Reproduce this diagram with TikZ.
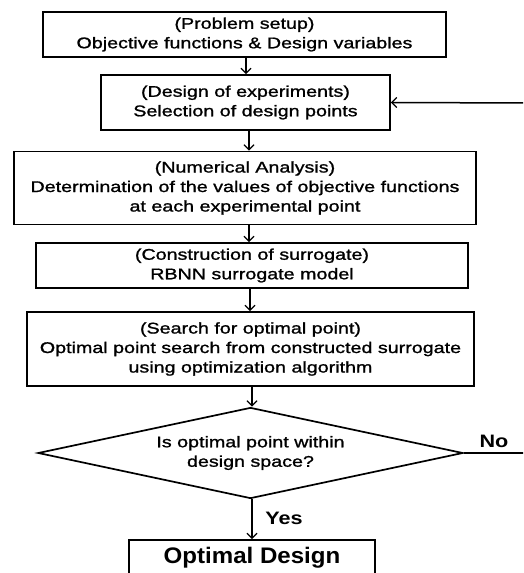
\documentclass[tikz,border=0pt]{standalone}
\usepackage{fontspec}
\setmainfont{Liberation Sans}
\newfontfamily\stepfont{Liberation Sans}[FakeStretch=1.27,FakeBold=1.2]
\newfontfamily\labelfont{Liberation Sans Bold}[FakeStretch=1.2]
\newfontfamily\resultfont{Liberation Sans Bold}[FakeStretch=1.07]
\usetikzlibrary{arrows.meta,shapes.geometric}
\begin{document}
\begin{tikzpicture}[x=1pt,y=-1pt,
  flowbox/.style={draw,line width=1.7pt,inner sep=0pt,align=center,
    font=\stepfont\fontsize{15.5}{19.5}\selectfont},
  decision/.style={draw,line width=1.7pt,shape=diamond,inner sep=0pt,
    aspect=4.67,minimum width=425pt,minimum height=91pt,align=center,
    font=\stepfont\fontsize{15.5}{19.5}\selectfont},
  flow/.style={line width=1.5pt,-{Straight Barb[length=5pt,width=10pt,line width=1.3pt]}},
  branch/.style={font=\labelfont\fontsize{18}{20}\selectfont}]
\useasboundingbox (0,0) rectangle (523,573);
\clip (0,0) rectangle (523,573);

% process steps
\node[flowbox,minimum width=403pt,minimum height=45pt] (setup) at (244.5,34.5)
  {(Problem setup)\\Objective functions \& Design variables};
\node[flowbox,minimum width=289pt,minimum height=55pt] (doe) at (245.5,102.5)
  {(Design of experiments)\\Selection of design points};
\node[flowbox,minimum width=462pt,minimum height=73pt] (analysis) at (245,188)
  {(Numerical Analysis)\\Determination of the values of objective functions\\at each experimental point};
\node[flowbox,minimum width=432pt,minimum height=45pt] (surrogate) at (252,265.5)
  {(Construction of surrogate)\\RBNN surrogate model};
\node[flowbox,minimum width=447pt,minimum height=74pt] (search) at (250.5,349)
  {(Search for optimal point)\\Optimal point search from constructed surrogate\\using optimization algorithm};
\node[decision] (check) at (250.5,453)
  {Is optimal point within\\design space?};
\node[draw,line width=1.7pt,minimum width=246pt,minimum height=60pt,
  font=\resultfont\fontsize{22.5}{26}\selectfont,text depth=30pt] (final) at (252,570)
  {Optimal Design};

% free ends of the return path
\coordinate (noend) at (530,453);
\coordinate (backstart) at (530,103);

% connectors
\draw[flow] (setup.south -| 246,0) -- (doe.north -| 246,0);
\draw[flow] (doe.south -| 249,0) -- (analysis.north -| 249,0);
\draw[flow] (analysis.south -| 249,0) -- (surrogate.north -| 249,0);
\draw[flow] (surrogate.south -| 250,0) -- (search.north -| 250,0);
\draw[flow] (search.south -| 252,0) -- (check.north -| 252,0);
\draw[flow] (check.south -| 252,0) -- (final.north -| 252,0);
\draw[line width=1.5pt] (check.east) -- (noend);
\draw[flow] (backstart) -- (doe.east);

% branch labels
\node[branch] (no) at (494,441) {No};
\node[branch] (yes) at (284,518) {Yes};
\end{tikzpicture}
\end{document}
